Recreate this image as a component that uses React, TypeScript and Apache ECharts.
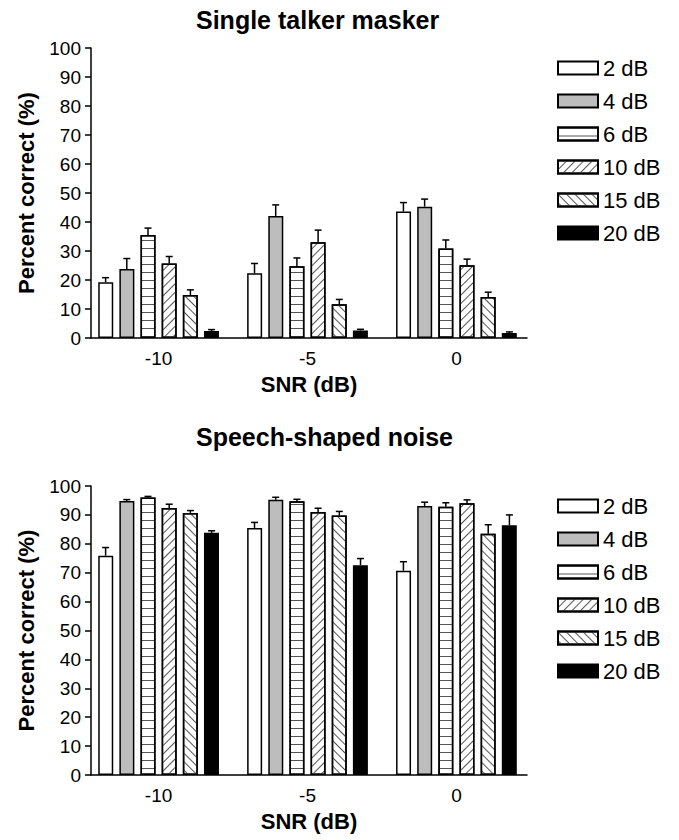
import React, { useEffect, useRef } from "react";
import * as echarts from "echarts";

// ---- data ----
const snrLevels = [-10, -5, 0];
const seriesNames = ["2 dB", "4 dB", "6 dB", "10 dB", "15 dB", "20 dB"];

// Single talker masker: mean % correct per level (rows) at SNR -10, -5, 0
const talkerMeans = [
  [19.2, 22.3, 43.6],
  [23.8, 42.1, 45.3],
  [35.5, 24.7, 30.9],
  [25.7, 33.0, 25.1],
  [14.8, 11.6, 14.1],
  [2.4, 2.6, 1.7],
];
const talkerErrors = [
  [1.6, 3.4, 3.1],
  [3.6, 3.8, 2.6],
  [2.4, 2.9, 2.9],
  [2.4, 4.2, 2.1],
  [1.8, 1.7, 1.7],
  [0.5, 0.4, 0.4],
];

// Speech-shaped noise
const noiseMeans = [
  [75.9, 85.5, 70.7],
  [94.8, 95.2, 93.1],
  [96.0, 94.7, 92.8],
  [92.4, 91.0, 94.0],
  [90.7, 89.8, 83.5],
  [83.8, 72.6, 86.4],
];
const noiseErrors = [
  [2.8, 1.9, 3.1],
  [0.5, 0.9, 1.3],
  [0.4, 0.7, 1.4],
  [1.3, 1.3, 1.2],
  [0.8, 1.4, 3.1],
  [0.7, 2.3, 3.6],
];

const chartTitles = ["Single talker masker", "Speech-shaped noise"];

// ---- style constants ----
const FONT = "Liberation Sans";
const BAR_WIDTH = 15;
const BAR_PITCH = 21.2;
const CAP = 7;
const X_MIN = -12.27;
const X_MAX = 2.37;

function levelItemStyle(i: number): any {
  const base: any = { color: "#fff", borderColor: "#000", borderWidth: 1.5 };
  if (i === 1) base.color = "#bdbdbd";
  if (i === 5) base.color = "#000";
  if (i === 2)
    base.decal = {
      symbol: "rect",
      symbolSize: 1,
      color: "#555",
      dashArrayX: [1, 0],
      dashArrayY: [1, 6.3],
      rotation: 0,
    };
  if (i === 3)
    base.decal = {
      symbol: "rect",
      symbolSize: 1,
      color: "#555",
      dashArrayX: [1, 0],
      dashArrayY: [1, 4.5],
      rotation: -Math.PI / 4,
    };
  if (i === 4)
    base.decal = {
      symbol: "rect",
      symbolSize: 1,
      color: "#555",
      dashArrayX: [1, 0],
      dashArrayY: [1, 4.5],
      rotation: Math.PI / 4,
    };
  return base;
}

const axisLineStyle = { color: "#000", width: 1.5 };

function buildOption() {
  const grids = [
    { left: 91, top: 48, width: 436, height: 290 },
    { left: 91, top: 486, width: 436, height: 289 },
  ];
  const legendTops = [57, 495];
  const titleTops = [7, 424];
  const datasets = [
    { means: talkerMeans, errors: talkerErrors },
    { means: noiseMeans, errors: noiseErrors },
  ];

  const xAxis: any[] = [];
  const yAxis: any[] = [];
  const series: any[] = [];
  const legend: any[] = [];
  const title: any[] = [];

  datasets.forEach((ds, g) => {
    xAxis.push({
      gridIndex: g,
      type: "value",
      min: X_MIN,
      max: X_MAX,
      name: "SNR (dB)",
      nameLocation: "middle",
      nameGap: 35,
      nameTextStyle: { fontSize: 22, fontWeight: "bold", fontFamily: FONT, color: "#000" },
      axisLine: { show: true, onZero: false, lineStyle: axisLineStyle },
      axisTick: { show: false },
      splitLine: { show: false },
      axisLabel: {
        customValues: snrLevels,
        formatter: (v: number) => String(v),
        fontSize: 19,
        fontFamily: FONT,
        color: "#000",
        margin: 11,
      },
    });
    yAxis.push({
      gridIndex: g,
      type: "value",
      min: 0,
      max: 100,
      interval: 10,
      name: "Percent correct (%)",
      nameLocation: "middle",
      nameGap: 54,
      nameTextStyle: { fontSize: 22, fontWeight: "bold", fontFamily: FONT, color: "#000" },
      axisLine: { show: true, onZero: false, lineStyle: axisLineStyle },
      axisTick: { show: true, length: 6, lineStyle: axisLineStyle },
      splitLine: { show: false },
      axisLabel: { fontSize: 19, fontFamily: FONT, color: "#000", margin: 10 },
    });

    const errData: any[] = [];
    seriesNames.forEach((name, i) => {
      series.push({
        type: "bar",
        name,
        xAxisIndex: g,
        yAxisIndex: g,
        barWidth: BAR_WIDTH,
        barGap: "41%",
        itemStyle: levelItemStyle(i),
        data: snrLevels.map((x, k) => [x, ds.means[i][k]]),
      });
      snrLevels.forEach((x, k) => errData.push([x, ds.means[i][k], ds.errors[i][k], i]));
    });
    series.push({
      type: "custom",
      name: "err" + g,
      xAxisIndex: g,
      yAxisIndex: g,
      z: 5,
      encode: { x: 0, y: 1 },
      data: errData,
      renderItem: (_p: any, api: any) => {
        const x = api.value(0);
        const y = api.value(1);
        const e = api.value(2);
        const idx = api.value(3);
        const base = api.coord([x, y]);
        const top = api.coord([x, y + e]);
        const cx = base[0] + (idx - 2.5) * BAR_PITCH;
        const st = { stroke: "#000", lineWidth: 1.5 };
        return {
          type: "group",
          children: [
            { type: "line", shape: { x1: cx, y1: base[1], x2: cx, y2: top[1] }, style: st },
            { type: "line", shape: { x1: cx - CAP / 2, y1: top[1], x2: cx + CAP / 2, y2: top[1] }, style: st },
          ],
        };
      },
    });

    legend.push({
      orient: "vertical",
      left: 557,
      top: legendTops[g],
      padding: 0,
      itemWidth: 40,
      itemHeight: 13,
      itemGap: 11,
      selectedMode: false,
      textStyle: { fontSize: 22, fontFamily: FONT, color: "#000" },
      data: seriesNames.map((n) => ({ name: n, icon: "rect" })),
    });

    title.push({
      text: chartTitles[g],
      left: 196,
      top: titleTops[g],
      padding: 0,
      textStyle: { fontSize: 25, fontWeight: "bold", fontFamily: FONT, color: "#000" },
    });
  });

  return {
    animation: false,
    backgroundColor: "#fff",
    title,
    legend,
    grid: grids,
    xAxis,
    yAxis,
    series,
  };
}

export default function App() {
  const ref = useRef<HTMLDivElement>(null);
  useEffect(() => {
    if (!ref.current) return;
    const chart = echarts.init(ref.current, null, { renderer: "svg" });
    chart.setOption(buildOption() as any);
    return () => chart.dispose();
  }, []);
  return (
    <div
      ref={ref}
      style={{ position: "absolute", left: 0, top: 0, width: 679, height: 840, background: "#fff" }}
    />
  );
}
